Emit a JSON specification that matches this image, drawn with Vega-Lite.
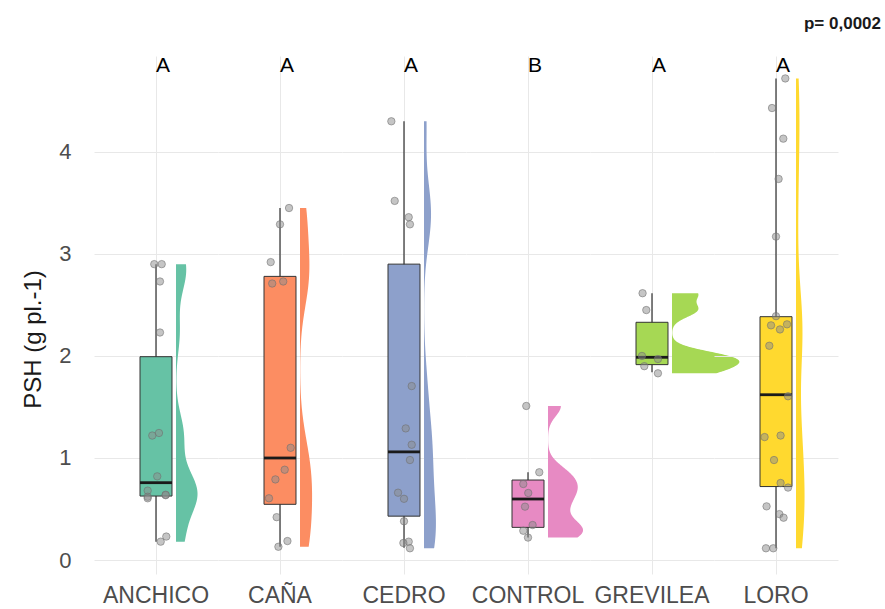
{
  "$schema": "https://vega.github.io/schema/vega-lite/v6.json",
  "background": "white",
  "padding": {"left": 21, "top": 15, "right": 4, "bottom": 2},
  "bounds": "flush",
  "spacing": 0,
  "data": {
    "values": [
      {"k": "box", "g": "ANCHICO", "lo": 0.18, "q1": 0.627, "med": 0.758, "q3": 1.993, "hi": 2.9, "let": "A"},
      {"k": "box", "g": "CAÑA", "lo": 0.13, "q1": 0.546, "med": 1.0, "q3": 2.78, "hi": 3.45, "let": "A"},
      {"k": "box", "g": "CEDRO", "lo": 0.12, "q1": 0.43, "med": 1.06, "q3": 2.9, "hi": 4.3, "let": "A"},
      {"k": "box", "g": "CONTROL", "lo": 0.22, "q1": 0.32, "med": 0.598, "q3": 0.784, "hi": 0.86, "let": "B"},
      {"k": "box", "g": "GREVILEA", "lo": 1.84, "q1": 1.915, "med": 1.987, "q3": 2.33, "hi": 2.615, "let": "A"},
      {"k": "box", "g": "LORO", "lo": 0.115, "q1": 0.72, "med": 1.62, "q3": 2.385, "hi": 4.72, "let": "A", "p": "p= 0,0002"},

      {"k": "pt", "g": "ANCHICO", "v": 2.9, "j": -0.067},
      {"k": "pt", "g": "ANCHICO", "v": 2.9, "j": 0.221},
      {"k": "pt", "g": "ANCHICO", "v": 2.73, "j": 0.154},
      {"k": "pt", "g": "ANCHICO", "v": 2.23, "j": 0.154},
      {"k": "pt", "g": "ANCHICO", "v": 1.245, "j": 0.115},
      {"k": "pt", "g": "ANCHICO", "v": 1.22, "j": -0.144},
      {"k": "pt", "g": "ANCHICO", "v": 0.82, "j": 0.048},
      {"k": "pt", "g": "ANCHICO", "v": 0.68, "j": -0.322},
      {"k": "pt", "g": "ANCHICO", "v": 0.635, "j": 0.374},
      {"k": "pt", "g": "ANCHICO", "v": 0.64, "j": 0.374},
      {"k": "pt", "g": "ANCHICO", "v": 0.62, "j": -0.322},
      {"k": "pt", "g": "ANCHICO", "v": 0.605, "j": -0.322},
      {"k": "pt", "g": "ANCHICO", "v": 0.23, "j": 0.398},
      {"k": "pt", "g": "ANCHICO", "v": 0.18, "j": 0.182},

      {"k": "pt", "g": "CAÑA", "v": 3.45, "j": 0.35},
      {"k": "pt", "g": "CAÑA", "v": 3.29, "j": 0.0},
      {"k": "pt", "g": "CAÑA", "v": 2.92, "j": -0.36},
      {"k": "pt", "g": "CAÑA", "v": 2.73, "j": 0.125},
      {"k": "pt", "g": "CAÑA", "v": 2.71, "j": -0.302},
      {"k": "pt", "g": "CAÑA", "v": 1.1, "j": 0.413},
      {"k": "pt", "g": "CAÑA", "v": 0.885, "j": 0.182},
      {"k": "pt", "g": "CAÑA", "v": 0.79, "j": -0.178},
      {"k": "pt", "g": "CAÑA", "v": 0.605, "j": -0.427},
      {"k": "pt", "g": "CAÑA", "v": 0.42, "j": -0.13},
      {"k": "pt", "g": "CAÑA", "v": 0.186, "j": 0.288},
      {"k": "pt", "g": "CAÑA", "v": 0.13, "j": -0.062},

      {"k": "pt", "g": "CEDRO", "v": 4.3, "j": -0.49},
      {"k": "pt", "g": "CEDRO", "v": 3.52, "j": -0.36},
      {"k": "pt", "g": "CEDRO", "v": 3.36, "j": 0.182},
      {"k": "pt", "g": "CEDRO", "v": 3.29, "j": 0.23},
      {"k": "pt", "g": "CEDRO", "v": 1.705, "j": 0.298},
      {"k": "pt", "g": "CEDRO", "v": 1.29, "j": 0.067},
      {"k": "pt", "g": "CEDRO", "v": 1.13, "j": 0.298},
      {"k": "pt", "g": "CEDRO", "v": 0.98, "j": 0.23},
      {"k": "pt", "g": "CEDRO", "v": 0.66, "j": -0.23},
      {"k": "pt", "g": "CEDRO", "v": 0.6, "j": 0.0},
      {"k": "pt", "g": "CEDRO", "v": 0.38, "j": 0.0},
      {"k": "pt", "g": "CEDRO", "v": 0.18, "j": 0.182},
      {"k": "pt", "g": "CEDRO", "v": 0.167, "j": -0.024},
      {"k": "pt", "g": "CEDRO", "v": 0.115, "j": 0.23},

      {"k": "pt", "g": "CONTROL", "v": 1.51, "j": -0.067},
      {"k": "pt", "g": "CONTROL", "v": 0.86, "j": 0.437},
      {"k": "pt", "g": "CONTROL", "v": 0.745, "j": -0.182},
      {"k": "pt", "g": "CONTROL", "v": 0.657, "j": 0.01},
      {"k": "pt", "g": "CONTROL", "v": 0.523, "j": -0.115},
      {"k": "pt", "g": "CONTROL", "v": 0.343, "j": 0.178},
      {"k": "pt", "g": "CONTROL", "v": 0.287, "j": -0.182},
      {"k": "pt", "g": "CONTROL", "v": 0.22, "j": 0.0},

      {"k": "pt", "g": "GREVILEA", "v": 2.615, "j": -0.365},
      {"k": "pt", "g": "GREVILEA", "v": 2.45, "j": -0.221},
      {"k": "pt", "g": "GREVILEA", "v": 2.0, "j": -0.389},
      {"k": "pt", "g": "GREVILEA", "v": 1.97, "j": 0.23},
      {"k": "pt", "g": "GREVILEA", "v": 1.9, "j": -0.298},
      {"k": "pt", "g": "GREVILEA", "v": 1.83, "j": 0.23},

      {"k": "pt", "g": "LORO", "v": 4.72, "j": 0.36},
      {"k": "pt", "g": "LORO", "v": 4.43, "j": -0.154},
      {"k": "pt", "g": "LORO", "v": 4.13, "j": 0.283},
      {"k": "pt", "g": "LORO", "v": 3.735, "j": 0.101},
      {"k": "pt", "g": "LORO", "v": 3.17, "j": 0.0},
      {"k": "pt", "g": "LORO", "v": 2.39, "j": 0.0},
      {"k": "pt", "g": "LORO", "v": 2.31, "j": 0.427},
      {"k": "pt", "g": "LORO", "v": 2.3, "j": -0.192},
      {"k": "pt", "g": "LORO", "v": 2.26, "j": 0.154},
      {"k": "pt", "g": "LORO", "v": 2.1, "j": -0.259},
      {"k": "pt", "g": "LORO", "v": 1.605, "j": 0.466},
      {"k": "pt", "g": "LORO", "v": 1.22, "j": 0.178},
      {"k": "pt", "g": "LORO", "v": 1.205, "j": -0.442},
      {"k": "pt", "g": "LORO", "v": 0.98, "j": -0.077},
      {"k": "pt", "g": "LORO", "v": 0.755, "j": 0.178},
      {"k": "pt", "g": "LORO", "v": 0.71, "j": 0.466},
      {"k": "pt", "g": "LORO", "v": 0.526, "j": -0.365},
      {"k": "pt", "g": "LORO", "v": 0.45, "j": 0.13},
      {"k": "pt", "g": "LORO", "v": 0.415, "j": 0.293},
      {"k": "pt", "g": "LORO", "v": 0.115, "j": -0.389},
      {"k": "pt", "g": "LORO", "v": 0.115, "j": -0.106}
    ]
  },
  "facet": {
    "column": {
      "field": "g",
      "type": "nominal",
      "sort": ["ANCHICO", "CAÑA", "CEDRO", "CONTROL", "GREVILEA", "LORO"],
      "title": null,
      "header": {
        "labelOrient": "bottom",
        "labelFontSize": 23,
        "labelColor": "#4d4d4d",
        "labelFont": "Liberation Sans",
        "labelPadding": 11
      }
    }
  },
  "spec": {
    "width": 124,
    "height": 518,
    "layer": [
      {
        "transform": [{"filter": "datum.k === 'pt'"}],
        "mark": {"type": "circle", "size": 55, "opacity": 0},
        "encoding": {
          "x": {
            "field": "j",
            "type": "quantitative",
            "scale": {"domain": [-2.4, 2.4], "nice": false, "zero": false},
            "axis": {"values": [0], "grid": true, "labels": false, "ticks": false, "domain": false, "title": null}
          },
          "y": {
            "field": "v",
            "type": "quantitative",
            "scale": {"domain": [-0.137, 4.94], "nice": false, "zero": false},
            "axis": {
              "title": "PSH (g pl.-1)",
              "values": [0, 0.5, 1, 1.5, 2, 2.5, 3, 3.5, 4, 4.5],
              "labelExpr": "datum.value % 1 === 0 ? datum.label : ''",
              "format": "d"
            }
          }
        }
      },
      {
        "transform": [{"filter": "datum.k === 'box'"}],
        "mark": {"type": "rule", "color": "#1a1a1a", "strokeWidth": 1.1},
        "encoding": {
          "x": {"datum": 0, "type": "quantitative"},
          "y": {"field": "lo", "type": "quantitative"},
          "y2": {"field": "hi"}
        }
      },
      {
        "transform": [{"filter": "datum.k === 'pt'"}, {"density": "v", "groupby": ["g"], "bandwidth": 0.2, "steps": 200, "as": ["value", "density"]}, {"filter": "datum.g === 'ANCHICO'"}],
        "mark": {"type": "area", "orient": "horizontal", "xOffset": 20, "x2Offset": 20},
        "encoding": {
          "y": {"field": "value", "type": "quantitative"},
          "x": {"field": "density", "type": "quantitative", "stack": null},
          "x2": {"datum": 0},
          "color": {
            "field": "g",
            "type": "nominal",
            "scale": {
              "domain": ["ANCHICO", "CAÑA", "CEDRO", "CONTROL", "GREVILEA", "LORO"],
              "range": ["#66c2a5", "#fc8d62", "#8da0cb", "#e78ac3", "#a6d854", "#ffd92f"]
            },
            "legend": null
          }
        }
      },
      {
        "transform": [{"filter": "datum.k === 'pt'"}, {"density": "v", "groupby": ["g"], "bandwidth": 0.3, "steps": 200, "as": ["value", "density"]}, {"filter": "datum.g === 'CAÑA'"}],
        "mark": {"type": "area", "orient": "horizontal", "xOffset": 20, "x2Offset": 20},
        "encoding": {
          "y": {"field": "value", "type": "quantitative"},
          "x": {"field": "density", "type": "quantitative", "stack": null},
          "x2": {"datum": 0},
          "color": {"field": "g", "type": "nominal", "legend": null}
        }
      },
      {
        "transform": [{"filter": "datum.k === 'pt'"}, {"density": "v", "groupby": ["g"], "bandwidth": 0.3, "steps": 200, "as": ["value", "density"]}, {"filter": "datum.g === 'CEDRO'"}],
        "mark": {"type": "area", "orient": "horizontal", "xOffset": 20, "x2Offset": 20},
        "encoding": {
          "y": {"field": "value", "type": "quantitative"},
          "x": {"field": "density", "type": "quantitative", "stack": null},
          "x2": {"datum": 0},
          "color": {"field": "g", "type": "nominal", "legend": null}
        }
      },
      {
        "transform": [{"filter": "datum.k === 'pt'"}, {"density": "v", "groupby": ["g"], "bandwidth": 0.1, "steps": 200, "as": ["value", "density"]}, {"filter": "datum.g === 'CONTROL'"}],
        "mark": {"type": "area", "orient": "horizontal", "xOffset": 20, "x2Offset": 20},
        "encoding": {
          "y": {"field": "value", "type": "quantitative"},
          "x": {"field": "density", "type": "quantitative", "stack": null},
          "x2": {"datum": 0},
          "color": {"field": "g", "type": "nominal", "legend": null}
        }
      },
      {
        "transform": [{"filter": "datum.k === 'pt'"}, {"density": "v", "groupby": ["g"], "bandwidth": 0.07, "steps": 200, "as": ["value", "density"]}, {"filter": "datum.g === 'GREVILEA'"}],
        "mark": {"type": "area", "orient": "horizontal", "xOffset": 20, "x2Offset": 20},
        "encoding": {
          "y": {"field": "value", "type": "quantitative"},
          "x": {"field": "density", "type": "quantitative", "stack": null},
          "x2": {"datum": 0},
          "color": {"field": "g", "type": "nominal", "legend": null}
        }
      },
      {
        "transform": [{"filter": "datum.k === 'pt'"}, {"density": "v", "groupby": ["g"], "bandwidth": 0.4, "steps": 200, "as": ["value", "density"]}, {"filter": "datum.g === 'LORO'"}],
        "mark": {"type": "area", "orient": "horizontal", "xOffset": 20, "x2Offset": 20},
        "encoding": {
          "y": {"field": "value", "type": "quantitative"},
          "x": {"field": "density", "type": "quantitative", "stack": null},
          "x2": {"datum": 0},
          "color": {"field": "g", "type": "nominal", "legend": null}
        }
      },
      {
        "transform": [{"filter": "datum.k === 'box'"}],
        "mark": {"type": "rect", "stroke": "#333333", "strokeWidth": 1},
        "encoding": {
          "x": {"datum": -0.619},
          "x2": {"datum": 0.619},
          "y": {"field": "q1", "type": "quantitative"},
          "y2": {"field": "q3"},
          "color": {"field": "g", "type": "nominal", "legend": null}
        }
      },
      {
        "transform": [{"filter": "datum.k === 'box'"}],
        "mark": {"type": "rule", "color": "#1a1a1a", "strokeWidth": 2.8},
        "encoding": {
          "x": {"datum": -0.619},
          "x2": {"datum": 0.619},
          "y": {"field": "med", "type": "quantitative"}
        }
      },
      {
        "transform": [{"filter": "datum.k === 'pt'"}],
        "mark": {"type": "circle", "size": 55, "fill": "#8c8c8c", "fillOpacity": 0.5, "stroke": "#6e6e6e", "strokeOpacity": 0.55, "strokeWidth": 1},
        "encoding": {
          "x": {"field": "j", "type": "quantitative"},
          "y": {"field": "v", "type": "quantitative"}
        }
      },
      {
        "transform": [{"filter": "datum.k === 'box'"}],
        "mark": {"type": "text", "fontSize": 21, "font": "Liberation Sans", "color": "#000000", "dx": 7, "baseline": "middle", "align": "center"},
        "encoding": {
          "x": {"datum": 0},
          "y": {"datum": 4.84, "type": "quantitative"},
          "text": {"field": "let", "type": "nominal"}
        }
      },
      {
        "transform": [{"filter": "isValid(datum.p)"}],
        "mark": {"type": "text", "fontSize": 17, "fontWeight": "bold", "font": "Liberation Sans", "color": "#1a1a1a", "dx": 43, "baseline": "middle", "align": "right"},
        "encoding": {
          "x": {"datum": 2.4},
          "y": {"datum": 5.25, "type": "quantitative"},
          "text": {"field": "p", "type": "nominal"}
        }
      }
    ]
  },
  "config": {
    "view": {"stroke": null},
    "font": "Liberation Sans",
    "axis": {
      "gridColor": "#e8e8e8",
      "gridWidth": 1,
      "ticks": false,
      "domain": false
    },
    "axisY": {
      "labelFontSize": 22,
      "labelColor": "#4d4d4d",
      "labelFont": "Liberation Sans",
      "labelPadding": 23,
      "titleFontSize": 24,
      "titleFont": "Liberation Sans",
      "titleFontWeight": "normal",
      "titleColor": "#1a1a1a",
      "titleX": -61,
      "titleY": 283,
      "titleBaseline": "middle",
      "titleAlign": "center"
    }
  }
}
